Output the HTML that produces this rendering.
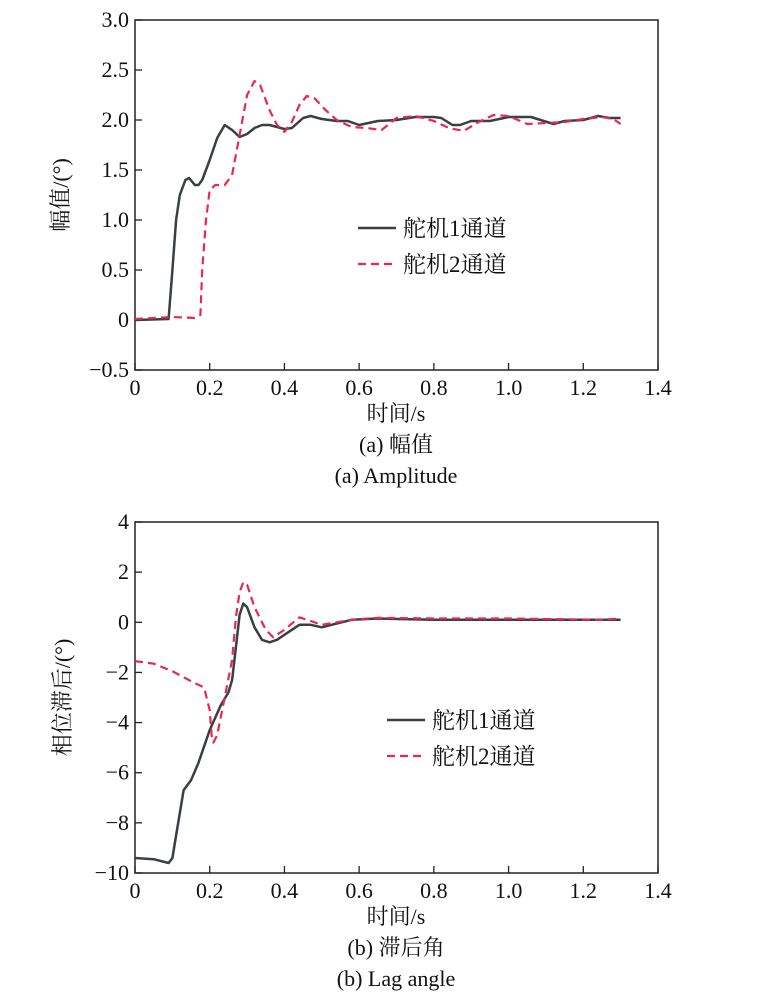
<!DOCTYPE html>
<html><head><meta charset="utf-8"><style>
body{margin:0;background:#fff;}
svg text{font-family:"Liberation Serif","Noto Serif CJK SC",serif;fill:#111;}
</style></head><body>
<svg width="766" height="1000" xmlns="http://www.w3.org/2000/svg">
<g id="ga"></g>
<g id="gb"></g>
</svg>
<script>
const xTicks=[0,0.2,0.4,0.6,0.8,1.0,1.2,1.4];
const xTickLabels=["0","0.2","0.4","0.6","0.8","1.0","1.2","1.4"];
const aYTicks=[-0.5,0,0.5,1.0,1.5,2.0,2.5,3.0];
const aYTickLabels=["\u22120.5","0","0.5","1.0","1.5","2.0","2.5","3.0"];
const bYTicks=[-10,-8,-6,-4,-2,0,2,4];
const bYTickLabels=["\u221210","\u22128","\u22126","\u22124","\u22122","0","2","4"];
const aT1=[0,0.09,0.1,0.11,0.12,0.135,0.145,0.16,0.17,0.18,0.2,0.22,0.24,0.26,0.28,0.3,0.32,0.34,0.36,0.38,0.4,0.42,0.45,0.47,0.5,0.54,0.57,0.6,0.65,0.7,0.75,0.8,0.82,0.85,0.87,0.9,0.95,1.0,1.06,1.12,1.15,1.2,1.24,1.27,1.3];
const aV1=[0,0.01,0.5,1.0,1.25,1.4,1.42,1.35,1.35,1.4,1.6,1.82,1.95,1.9,1.83,1.86,1.92,1.95,1.95,1.93,1.91,1.92,2.02,2.04,2.01,1.99,1.99,1.95,1.99,2.0,2.03,2.03,2.02,1.95,1.95,1.99,1.99,2.03,2.03,1.96,1.99,2.0,2.04,2.02,2.02];
const aT2=[0,0.1,0.16,0.175,0.18,0.19,0.2,0.215,0.24,0.26,0.28,0.3,0.32,0.335,0.36,0.38,0.4,0.42,0.44,0.46,0.48,0.51,0.54,0.58,0.62,0.66,0.7,0.75,0.8,0.84,0.88,0.92,0.96,1.0,1.05,1.1,1.15,1.2,1.25,1.28,1.3];
const aV2=[0.01,0.03,0.02,0.05,0.5,1.0,1.3,1.35,1.35,1.45,1.85,2.25,2.39,2.35,2.1,1.95,1.88,1.98,2.15,2.24,2.22,2.1,2.0,1.93,1.92,1.9,2.02,2.04,1.99,1.92,1.89,1.98,2.05,2.04,1.96,1.97,1.98,2.01,2.03,2.01,1.96];
const bT1=[0,0.05,0.09,0.1,0.11,0.13,0.15,0.17,0.2,0.23,0.25,0.26,0.27,0.28,0.29,0.3,0.32,0.34,0.36,0.38,0.42,0.44,0.47,0.5,0.54,0.58,0.65,0.8,1.0,1.3];
const bV1=[-9.4,-9.45,-9.6,-9.4,-8.5,-6.7,-6.3,-5.6,-4.3,-3.3,-2.8,-2.3,-1,0.3,0.75,0.6,-0.2,-0.7,-0.8,-0.7,-0.3,-0.1,-0.1,-0.2,-0.05,0.1,0.15,0.1,0.1,0.1];
const bT2=[0,0.05,0.1,0.15,0.185,0.2,0.205,0.21,0.22,0.24,0.26,0.27,0.28,0.29,0.3,0.32,0.35,0.37,0.4,0.44,0.47,0.5,0.54,0.58,0.65,0.8,1.0,1.25,1.3];
const bV2=[-1.55,-1.65,-1.95,-2.35,-2.6,-3.5,-4.5,-4.8,-4.5,-3.0,-1.5,0.2,1.2,1.6,1.5,0.6,-0.3,-0.6,-0.3,0.2,0.05,-0.1,0,0.1,0.18,0.15,0.15,0.1,0.15];
const NS="http://www.w3.org/2000/svg";
function mk(p,tag,at,txt){const e=document.createElementNS(NS,tag);for(const k in at)e.setAttribute(k,at[k]);if(txt!==undefined)e.textContent=txt;p.appendChild(e);return e;}
function chart(g,o){
 const L=135,R=658,T=o.top,B=o.bot;
 const sx=v=>L+(v-0)/1.4*(R-L);
 const sy=v=>B-(v-o.ymin)/(o.ymax-o.ymin)*(B-T);
 const fr=mk(g,'rect',{x:L,y:T,width:R-L,height:B-T,fill:'none',stroke:'#222','stroke-width':1.5});
 
 
 xTicks.forEach((v,i)=>{
  const t=mk(g,'line',{x1:sx(v),x2:sx(v),y1:B,y2:B-7,stroke:'#222','stroke-width':1.3});
  
  
  const l=mk(g,'text',{x:sx(v),y:B+25,'text-anchor':'middle','font-size':22},xTickLabels[i]);
  
  
 });
 o.yt.forEach((v,i)=>{
  const t=mk(g,'line',{x1:L,x2:L+7,y1:sy(v),y2:sy(v),stroke:'#222','stroke-width':1.3});
  
  
  const l=mk(g,'text',{x:L-6,y:sy(v)+7,'text-anchor':'end','font-size':22},o.yl[i]);
  
  
 });
 const path=(ts,vs)=>ts.map((t,i)=>(i?'L':'M')+sx(t).toFixed(1)+','+sy(vs[i]).toFixed(1)).join('');
 const s1=mk(g,'path',{d:path(o.t1,o.v1),fill:'none',stroke:'#3a3f44','stroke-width':2.5,'stroke-linejoin':'round'});
 
 
 const s2=mk(g,'path',{d:path(o.t2,o.v2),fill:'none',stroke:'#e8284e','stroke-width':2.2,'stroke-dasharray':'8,5','stroke-linejoin':'round'});
 
 
 const lg=mk(g,'g',{});
 
 
 const e1=mk(lg,'line',{x1:o.lx,x2:o.lx+38,y1:o.ly,y2:o.ly,stroke:'#3a3f44','stroke-width':2.5});
 
 
 const t1=mk(lg,'text',{x:o.lx+45,y:o.ly+8,'font-size':23},'舵机1通道');
 
 
 const e2=mk(lg,'line',{x1:o.lx,x2:o.lx+38,y1:o.ly+36,y2:o.ly+36,stroke:'#e8284e','stroke-width':2.2,'stroke-dasharray':'8,5'});
 
 
 const t2=mk(lg,'text',{x:o.lx+45,y:o.ly+44,'font-size':23},'舵机2通道');
 
 
 const xl=mk(g,'text',{x:396,y:B+51,'text-anchor':'middle','font-size':22},'时间/s');
 
 
 const yl=mk(g,'text',{x:0,y:0,'text-anchor':'middle','font-size':22,transform:'translate('+o.yx+','+((T+B)/2)+') rotate(-90)'},o.ytitle);
 
 
 const c1=mk(g,'text',{x:396,y:B+82,'text-anchor':'middle','font-size':22},o.cap1);
 
 
 const c2=mk(g,'text',{x:396,y:B+113,'text-anchor':'middle','font-size':22},o.cap2);
 
 
}
chart(document.getElementById('ga'),{top:20,bot:370,ymin:-0.5,ymax:3.0,yt:aYTicks,yl:aYTickLabels,t1:aT1,v1:aV1,t2:aT2,v2:aV2,lx:358,ly:228,yx:68,ytitle:'幅值/(°)',cap1:'(a) 幅值',cap2:'(a) Amplitude'});
chart(document.getElementById('gb'),{top:522,bot:873,ymin:-10,ymax:4,yt:bYTicks,yl:bYTickLabels,t1:bT1,v1:bV1,t2:bT2,v2:bV2,lx:387,ly:720,yx:70,ytitle:'相位滞后/(°)',cap1:'(b) 滞后角',cap2:'(b) Lag angle'});
</script>
</body></html>
